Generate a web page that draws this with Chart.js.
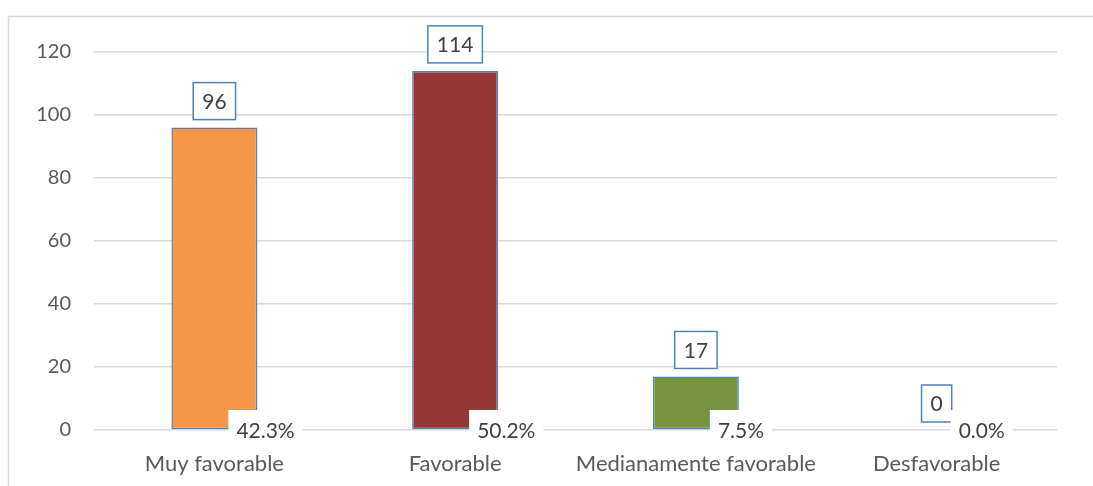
<!DOCTYPE html>
<html>
<head>
<meta charset="utf-8">
<script src="https://cdn.jsdelivr.net/npm/chart.js@4"></script>
<style>
html,body{margin:0;padding:0;background:#fff;}
#wrap{width:1093px;height:486px;position:relative;}
</style>
</head>
<body>
<div id="wrap"><canvas id="c" width="1093" height="486"></canvas></div>
<script>
const categories = ["Muy favorable", "Favorable", "Medianamente favorable", "Desfavorable"];
const counts = [96, 114, 17, 0];
const percents = [42.3, 50.2, 7.5, 0.0];
const yTicks = [0, 20, 40, 60, 80, 100, 120];
const barColors = ["#F79646", "#953735", "#77933C", "#4F81BD"];

const FONT = "Lato, 'Open Sans', sans-serif";
const FS = 21;

const framePlugin = {
  id: 'frame',
  beforeDraw(chart) {
    const ctx = chart.ctx;
    ctx.save();
    ctx.fillStyle = '#fff';
    ctx.fillRect(0, 0, chart.width, chart.height);
    ctx.strokeStyle = '#d9d9d9';
    ctx.lineWidth = 1.5;
    ctx.strokeRect(8.5, 16.5, 1300, 600);
    ctx.restore();
  }
};

const labelPlugin = {
  id: 'labels',
  afterDatasetsDraw(chart) {
    const ctx = chart.ctx;
    const meta = chart.getDatasetMeta(0);
    ctx.save();
    ctx.font = FS + 'px ' + FONT;
    ctx.textBaseline = 'middle';
    meta.data.forEach((bar, i) => {
      const txt = String(counts[i]);
      const tw = ctx.measureText(txt).width;
      const w = tw + 18, h = 37;
      const bottom = bar.y - 8;
      const x0 = bar.x - w / 2;
      ctx.fillStyle = '#fff';
      ctx.fillRect(x0, bottom - h, w, h);
      ctx.strokeStyle = '#4F81BD';
      ctx.lineWidth = 1.5;
      ctx.strokeRect(x0, bottom - h, w, h);
      ctx.fillStyle = '#404040';
      ctx.textAlign = 'center';
      ctx.fillText(txt, bar.x, bottom - h / 2 + 1);
    });
    const base = chart.scales.y.getPixelForValue(0);
    meta.data.forEach((bar, i) => {
      const txt = percents[i].toFixed(1) + '%';
      const tw = ctx.measureText(txt).width;
      const w = tw + 16, h = 40;
      const x0 = bar.x + 14;
      ctx.fillStyle = '#fff';
      ctx.fillRect(x0, base - 20, w, h);
      ctx.fillStyle = '#404040';
      ctx.textAlign = 'left';
      ctx.fillText(txt, x0 + 8, base + 1);
    });
    ctx.restore();
  }
};

new Chart(document.getElementById('c'), {
  type: 'bar',
  data: {
    labels: categories,
    datasets: [{
      data: counts,
      backgroundColor: barColors,
      borderColor: '#4F81BD',
      borderWidth: 1.5,
      borderSkipped: false,
      categoryPercentage: 1,
      barPercentage: 0.357
    }]
  },
  options: {
    responsive: false,
    animation: false,
    devicePixelRatio: 1,
    layout: { padding: { left: 0, top: 52, right: 36, bottom: 0 } },
    plugins: { legend: { display: false }, tooltip: { enabled: false } },
    scales: {
      x: {
        grid: { display: false, drawTicks: false },
        border: { display: false },
        ticks: { color: '#595959', font: { family: FONT, size: 22 }, padding: 21, maxRotation: 0, autoSkip: false },
        afterFit(s) { s.height = 56; }
      },
      y: {
        min: 0, max: 120,
        afterBuildTicks(s) { s.ticks = yTicks.map(v => ({ value: v })); },
        grid: { color: '#d9d9d9', lineWidth: 1.5, drawTicks: false },
        border: { display: false },
        ticks: { color: '#595959', font: { family: FONT, size: 20 }, padding: 23 },
        afterFit(s) { s.width = 94; }
      }
    }
  },
  plugins: [framePlugin, labelPlugin]
});
</script>
</body>
</html>
